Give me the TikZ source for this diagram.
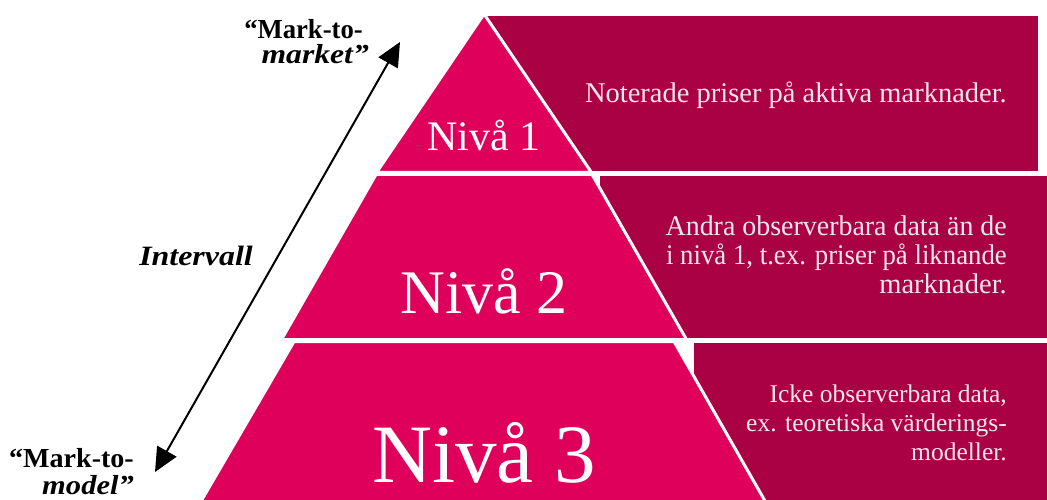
\documentclass[tikz,border=0pt]{standalone}
\usepackage{fontspec}
\usepackage{graphicx}
\setmainfont{Liberation Serif}
\usetikzlibrary{arrows.meta}
\definecolor{tierpink}{RGB}{222,0,90}
\definecolor{boxdark}{RGB}{170,0,68}
\definecolor{boxtext}{RGB}{250,230,238}
\begin{document}
\begin{tikzpicture}[x=1pt,y=-1pt,
  tier/.style={fill=tierpink, draw=white, line width=3pt, line join=miter},
  infobox/.style={fill=boxdark, draw=white, line width=3pt},
  nivalabel/.style={text=white, inner sep=0pt, anchor=base},
  infoline/.style={text=boxtext, inner sep=0pt, anchor=base east, font=\fontsize{28.5}{34}\selectfont},
  infosmall/.style={infoline, font=\fontsize{25.5}{30}\selectfont},
  sidelabel/.style={text=black, inner sep=0pt, anchor=base east, font=\fontsize{27.5}{32}\selectfont\bfseries},
  rangearrow/.style={{Triangle[length=24pt,width=22pt]}-{Triangle[length=24pt,width=22pt]}, line width=2pt, draw=black}
]
\useasboundingbox (0,0) rectangle (1047,500);
\clip (0,0) rectangle (1047,500);
\fill[white] (0,0) rectangle (1047,500);

% dark information boxes
\draw[infobox] (482,14.5) rectangle (1039.5,172.5);
\draw[infobox] (598,174.5) rectangle (1060,339.5);
\draw[infobox] (692,341.5) rectangle (1060,515);

% pyramid tiers
\draw[tier] (484,14) -- (591.5,172.5) -- (376.5,172.5) -- cycle;
\draw[tier] (376,174.5) -- (592,174.5) -- (686.5,339.5) -- (281.5,339.5) -- cycle;
\draw[tier] (294,341.5) -- (674,341.5) -- (773,515) -- (193,515) -- cycle;

% level labels
\node[nivalabel, font=\fontsize{42}{48}\selectfont] (n1) at (484,150) {Nivå 1};
\node[nivalabel, font=\fontsize{62}{70}\selectfont] (n2) at (484,313) {Nivå 2};
\node[nivalabel, font=\fontsize{83}{90}\selectfont] (n3) at (484,482) {Nivå 3};

% information texts
\node[infoline] (t1) at (1007,103) {Noterade priser på aktiva marknader.};
\node[infoline] (t2a) at (1007,235) {\scalebox{0.98}[1]{Andra observerbara data än de}};
\node[infoline] (t2b) at (1007,264) {\scalebox{0.94}[1]{i nivå 1, t.ex. priser på liknande}};
\node[infoline] (t2c) at (1007,293) {marknader.};
\node[infosmall] (t3a) at (1007,402) {Icke observerbara data,};
\node[infosmall] (t3b) at (1007,431) {ex. teoretiska värderings-};
\node[infosmall] (t3c) at (1007,460) {modeller.};

% side labels
\node[sidelabel] (mtma) at (363,39) {\scalebox{0.97}[1]{“Mark-to-}};
\node[sidelabel] (mtmb) at (369,64) {\scalebox{1.15}[1]{\itshape market”}};
\node[sidelabel] (mtla) at (134,467) {\scalebox{1.02}[1]{“Mark-to-}};
\node[sidelabel] (mtlb) at (134,494) {\scalebox{1.11}[1]{\itshape model”}};
\node[text=black, inner sep=0pt, anchor=base, font=\fontsize{28}{32}\selectfont\bfseries\itshape] (interv) at (196,265) {\scalebox{1.14}[1]{Intervall}};

% range arrow
\coordinate (lowtip) at (155,472);
\coordinate (uptip) at (400,42);
\draw[rangearrow] (lowtip) -- (uptip);
\end{tikzpicture}
\end{document}
